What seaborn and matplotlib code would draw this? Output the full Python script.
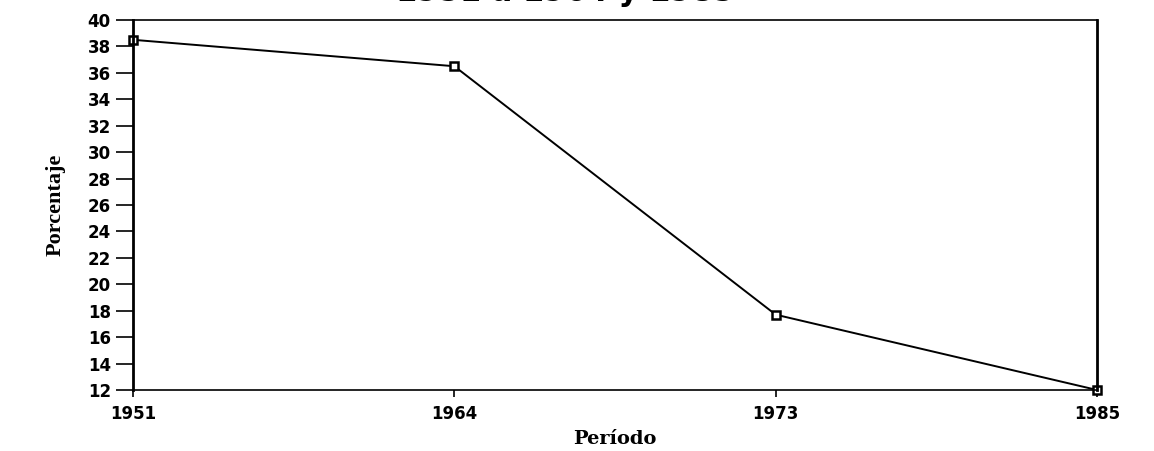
import matplotlib
matplotlib.use("Agg")
import matplotlib.pyplot as plt
import seaborn as sns
import pandas as pd

periodos = ["1951", "1964", "1973", "1985"]
porcentaje = [38.5, 36.5, 17.7, 12.0]
yticks = list(range(12, 41, 2))

df = pd.DataFrame({"periodo": periodos, "porcentaje": porcentaje})

sns.set_style("white")
plt.rcParams["font.family"] = ["DejaVu Sans"]
plt.rcParams["text.color"] = "black"
plt.rcParams["xtick.color"] = "black"
plt.rcParams["ytick.color"] = "black"
plt.rcParams["axes.labelcolor"] = "black"

fig = plt.figure(figsize=(11.54, 4.51), dpi=100)
ax = fig.add_axes([0.1153, 0.1353, 0.8353, 0.8204])

sns.lineplot(data=df, x="periodo", y="porcentaje", sort=False, ax=ax,
             color="black", linewidth=1.4, marker="s", markersize=6,
             markerfacecolor="white", markeredgecolor="black", markeredgewidth=1.8,
             clip_on=False)

ax.set_xlim(0, 3)
ax.set_ylim(12, 40)
ax.set_yticks(yticks)
ax.set_yticklabels([str(t) for t in yticks], fontsize=12, fontweight="bold")
ax.set_xticks(range(len(periodos)))
ax.set_xticklabels(periodos, fontsize=12, fontweight="bold")
ax.tick_params(axis="y", left=True, direction="out", length=12, width=1.2, pad=4)
ax.tick_params(axis="x", bottom=True, direction="out", length=5, width=1.2, pad=6)

for side in ["top", "bottom"]:
    ax.spines[side].set_linewidth(1.2)
    ax.spines[side].set_color("black")
for side in ["left", "right"]:
    ax.spines[side].set_linewidth(2.0)
    ax.spines[side].set_color("black")

ax.set_xlabel("Período", fontsize=14, fontweight="bold", family="DejaVu Serif", labelpad=5)
ax.set_ylabel("Porcentaje", fontsize=16, fontweight="bold", family="Liberation Serif", labelpad=16)

# title cut off at the top of the original scan
fig.text(0.49, 0.998, "1951 a 1964 y 1985", ha="center", va="baseline",
         fontsize=22, fontweight="bold")

fig.savefig("out.png", dpi=100)
